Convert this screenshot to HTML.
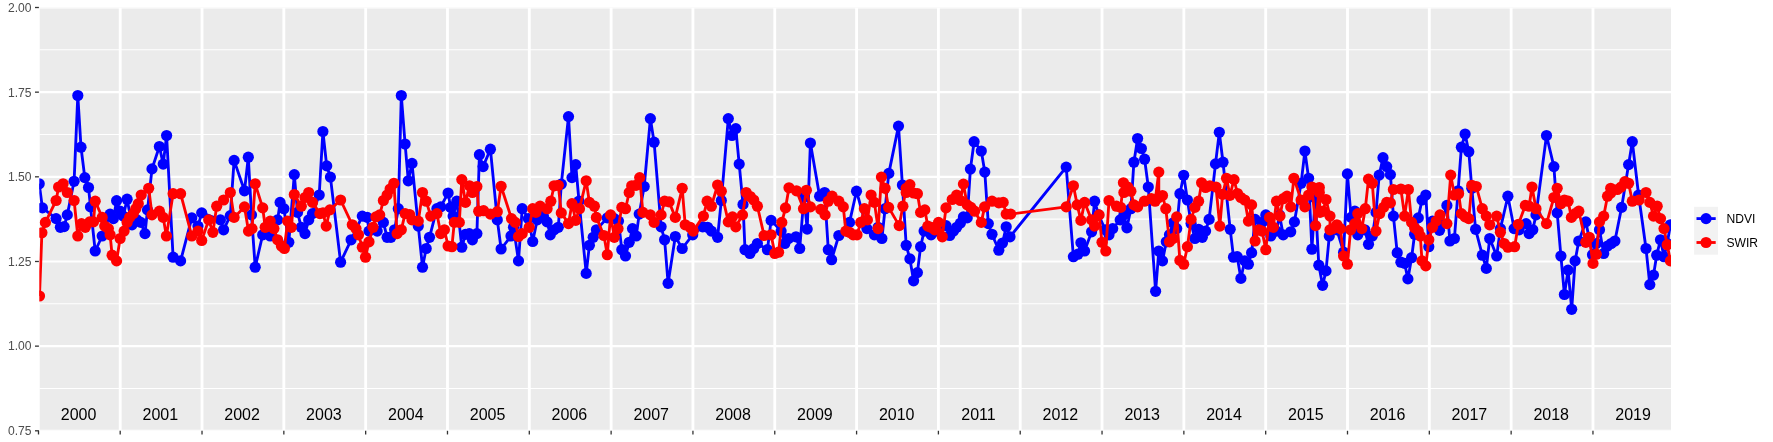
<!DOCTYPE html>
<html><head><meta charset="utf-8"><title>NDVI / SWIR time series</title>
<style>html,body{margin:0;padding:0;background:#fff}svg{display:block}text{font-family:"Liberation Sans",Arial,Helvetica,sans-serif}svg{will-change:transform}</style></head><body>
<svg width="1773" height="442" viewBox="0 0 1773 442">
<rect width="1773" height="442" fill="#fff"/>
<rect x="39.3" y="7.5" width="1631.7" height="423.3" fill="#EBEBEB"/>
<defs><clipPath id="c"><rect x="39.3" y="7.5" width="1631.7" height="423.3"/></clipPath></defs>
<g clip-path="url(#c)">
<line x1="39.3" x2="1671.0" y1="388.47" y2="388.47" stroke="#fff" stroke-width="1.07"/>
<line x1="39.3" x2="1671.0" y1="303.81" y2="303.81" stroke="#fff" stroke-width="1.07"/>
<line x1="39.3" x2="1671.0" y1="219.15" y2="219.15" stroke="#fff" stroke-width="1.07"/>
<line x1="39.3" x2="1671.0" y1="134.49" y2="134.49" stroke="#fff" stroke-width="1.07"/>
<line x1="39.3" x2="1671.0" y1="49.83" y2="49.83" stroke="#fff" stroke-width="1.07"/>
<line x1="39.3" x2="1671.0" y1="430.80" y2="430.80" stroke="#fff" stroke-width="2.13"/>
<line x1="39.3" x2="1671.0" y1="346.14" y2="346.14" stroke="#fff" stroke-width="2.13"/>
<line x1="39.3" x2="1671.0" y1="261.48" y2="261.48" stroke="#fff" stroke-width="2.13"/>
<line x1="39.3" x2="1671.0" y1="176.82" y2="176.82" stroke="#fff" stroke-width="2.13"/>
<line x1="39.3" x2="1671.0" y1="92.16" y2="92.16" stroke="#fff" stroke-width="2.13"/>
<line x1="39.3" x2="1671.0" y1="7.50" y2="7.50" stroke="#fff" stroke-width="2.13"/>
<line y1="7.5" y2="430.8" x1="38.50" x2="38.50" stroke="#fff" stroke-width="2.85"/>
<line y1="7.5" y2="430.8" x1="120.20" x2="120.20" stroke="#fff" stroke-width="2.85"/>
<line y1="7.5" y2="430.8" x1="202.02" x2="202.02" stroke="#fff" stroke-width="2.85"/>
<line y1="7.5" y2="430.8" x1="283.84" x2="283.84" stroke="#fff" stroke-width="2.85"/>
<line y1="7.5" y2="430.8" x1="365.66" x2="365.66" stroke="#fff" stroke-width="2.85"/>
<line y1="7.5" y2="430.8" x1="447.48" x2="447.48" stroke="#fff" stroke-width="2.85"/>
<line y1="7.5" y2="430.8" x1="529.30" x2="529.30" stroke="#fff" stroke-width="2.85"/>
<line y1="7.5" y2="430.8" x1="611.12" x2="611.12" stroke="#fff" stroke-width="2.85"/>
<line y1="7.5" y2="430.8" x1="692.94" x2="692.94" stroke="#fff" stroke-width="2.85"/>
<line y1="7.5" y2="430.8" x1="774.76" x2="774.76" stroke="#fff" stroke-width="2.85"/>
<line y1="7.5" y2="430.8" x1="856.58" x2="856.58" stroke="#fff" stroke-width="2.85"/>
<line y1="7.5" y2="430.8" x1="938.40" x2="938.40" stroke="#fff" stroke-width="2.85"/>
<line y1="7.5" y2="430.8" x1="1020.22" x2="1020.22" stroke="#fff" stroke-width="2.85"/>
<line y1="7.5" y2="430.8" x1="1102.04" x2="1102.04" stroke="#fff" stroke-width="2.85"/>
<line y1="7.5" y2="430.8" x1="1183.86" x2="1183.86" stroke="#fff" stroke-width="2.85"/>
<line y1="7.5" y2="430.8" x1="1265.68" x2="1265.68" stroke="#fff" stroke-width="2.85"/>
<line y1="7.5" y2="430.8" x1="1347.50" x2="1347.50" stroke="#fff" stroke-width="2.85"/>
<line y1="7.5" y2="430.8" x1="1429.32" x2="1429.32" stroke="#fff" stroke-width="2.85"/>
<line y1="7.5" y2="430.8" x1="1511.14" x2="1511.14" stroke="#fff" stroke-width="2.85"/>
<line y1="7.5" y2="430.8" x1="1592.96" x2="1592.96" stroke="#fff" stroke-width="2.85"/>
<path d="M39.2,183.8 L42.4,207.9 L56.1,218.6 L60.4,227.3 L64.1,226.6 L67.3,214.9 L74.1,181.3 L77.8,95.5 L81.0,147.2 L84.8,177.6 L88.5,187.5 L90.5,206.9 L95.2,251.0 L102.2,236.0 L110.1,214.1 L113.4,218.6 L116.6,200.7 L120.1,211.2 L123.3,216.1 L127.1,199.2 L132.0,224.8 L137.0,219.9 L140.8,222.4 L145.0,233.6 L147.5,209.9 L152.0,168.9 L159.4,146.5 L163.2,164.1 L166.6,135.5 L173.1,257.2 L180.6,260.9 L191.8,217.9 L198.0,226.1 L201.7,212.9 L220.4,219.9 L223.6,229.8 L230.3,215.6 L234.1,160.4 L244.5,190.8 L248.3,157.2 L251.5,214.9 L255.2,267.2 L262.7,234.8 L270.2,236.0 L277.6,219.9 L280.1,202.4 L283.9,208.7 L288.8,242.3 L294.3,174.6 L297.5,212.4 L301.3,227.3 L305.0,233.6 L308.7,219.9 L312.5,213.6 L319.2,195.0 L322.9,131.5 L326.7,165.9 L330.4,177.1 L340.6,262.2 L351.1,239.8 L362.3,216.1 L367.2,217.4 L369.0,231.1 L377.2,231.1 L383.4,222.4 L387.1,237.3 L390.9,237.3 L394.6,229.8 L398.3,208.7 L401.3,95.5 L405.1,144.0 L408.3,180.8 L412.0,163.4 L418.3,226.1 L422.5,267.2 L426.2,248.5 L429.5,237.3 L436.9,208.7 L440.7,206.9 L448.1,193.0 L450.6,207.4 L453.1,216.1 L456.8,201.2 L461.8,247.2 L465.5,234.3 L469.3,233.6 L472.4,239.8 L476.9,233.6 L479.4,154.7 L483.1,166.6 L490.4,149.2 L497.3,219.9 L501.1,249.0 L511.0,236.0 L513.5,227.3 L518.5,260.9 L522.2,208.7 L528.4,218.6 L532.7,241.5 L537.2,219.9 L543.4,216.1 L547.1,221.9 L550.3,234.8 L554.1,229.8 L558.3,227.3 L561.3,184.1 L568.5,116.6 L572.0,177.6 L575.7,164.6 L579.0,201.2 L586.2,273.4 L589.4,245.3 L593.2,237.3 L596.4,229.8 L607.3,217.9 L614.3,218.6 L618.5,221.1 L621.8,249.7 L625.5,256.0 L629.2,242.3 L632.5,228.6 L636.2,236.0 L639.2,214.1 L644.2,186.5 L650.4,118.6 L654.1,142.2 L661.1,226.8 L664.6,239.8 L668.1,283.3 L675.3,236.5 L682.2,248.5 L692.7,234.8 L702.7,226.8 L707.6,227.3 L711.4,231.1 L717.6,237.3 L721.3,200.5 L728.3,118.6 L732.0,135.5 L735.8,128.6 L739.2,164.1 L743.0,204.4 L745.0,249.7 L749.9,253.5 L753.7,248.5 L757.4,243.5 L767.4,249.7 L771.1,220.4 L781.1,231.1 L784.8,243.5 L788.5,238.5 L796.0,236.8 L799.7,248.5 L804.0,197.0 L807.2,229.1 L810.4,143.0 L819.6,196.2 L824.6,192.5 L828.3,249.7 L831.6,259.7 L838.8,235.5 L849.5,222.4 L856.5,191.2 L866.9,228.6 L874.4,234.8 L878.1,227.3 L881.9,238.5 L885.1,208.7 L888.8,173.4 L898.5,126.1 L902.4,185.0 L906.2,245.3 L909.9,258.9 L913.6,280.8 L917.4,272.6 L920.6,246.7 L924.1,231.1 L931.1,234.8 L937.3,231.1 L946.0,225.6 L949.7,235.5 L953.5,231.1 L956.7,227.3 L960.4,223.1 L963.4,216.9 L967.2,217.9 L970.4,169.1 L974.1,141.7 L981.3,151.0 L984.8,172.1 L988.3,223.6 L992.0,234.3 L998.8,250.2 L1002.5,243.0 L1006.2,226.8 L1010.0,236.8 L1066.2,167.1 L1073.4,256.7 L1077.9,254.2 L1080.9,242.8 L1084.6,251.0 L1091.6,231.8 L1094.6,201.2 L1098.6,214.9 L1105.3,229.8 L1109.0,234.8 L1112.7,228.6 L1120.2,219.9 L1123.9,214.9 L1126.9,227.8 L1130.9,208.7 L1133.9,162.2 L1137.6,138.5 L1141.4,148.5 L1144.6,159.2 L1148.3,187.0 L1155.6,291.3 L1158.8,251.0 L1162.5,260.9 L1166.3,241.8 L1169.5,234.8 L1173.0,222.9 L1176.7,228.6 L1179.9,193.7 L1183.7,175.3 L1187.4,200.0 L1191.1,223.6 L1194.9,238.5 L1198.6,229.3 L1202.3,237.3 L1205.6,231.1 L1209.1,219.4 L1215.5,163.9 L1219.3,132.3 L1223.0,162.2 L1230.2,229.3 L1233.5,257.2 L1237.2,256.7 L1240.9,278.4 L1244.7,260.9 L1248.4,264.2 L1251.6,252.7 L1255.1,219.4 L1262.1,222.4 L1265.8,214.9 L1270.8,236.0 L1276.5,231.1 L1279.5,214.9 L1283.2,234.8 L1290.7,231.8 L1294.4,221.9 L1301.1,183.3 L1304.9,151.0 L1308.6,178.3 L1311.9,249.2 L1315.2,198.0 L1318.8,265.2 L1322.6,285.3 L1326.0,270.9 L1329.3,236.0 L1336.9,229.8 L1343.6,252.2 L1347.4,173.9 L1351.1,217.4 L1354.8,211.2 L1357.8,234.8 L1364.8,229.8 L1368.5,244.3 L1372.3,236.0 L1376.0,212.4 L1379.2,175.1 L1383.0,157.7 L1386.7,166.6 L1390.4,174.6 L1393.4,216.1 L1397.2,252.7 L1400.9,262.2 L1404.6,263.4 L1407.9,278.9 L1411.6,257.7 L1414.6,234.3 L1418.3,217.9 L1422.0,200.0 L1425.8,195.0 L1428.8,246.7 L1432.5,221.1 L1439.5,230.3 L1446.9,205.4 L1449.9,241.0 L1454.4,238.5 L1458.1,190.8 L1461.4,147.2 L1465.1,134.0 L1468.8,151.7 L1471.8,188.3 L1475.6,229.3 L1482.3,255.2 L1486.3,268.4 L1489.7,238.5 L1496.7,256.0 L1500.4,228.6 L1507.9,196.2 L1514.1,228.6 L1519.1,229.8 L1526.1,223.6 L1529.1,233.6 L1532.8,229.8 L1536.0,214.9 L1546.5,135.5 L1553.9,166.6 L1557.2,212.9 L1560.9,256.0 L1564.4,294.5 L1568.1,270.1 L1571.7,309.3 L1575.1,260.9 L1578.8,241.0 L1585.8,221.9 L1592.5,254.7 L1596.3,243.5 L1599.5,229.8 L1603.7,253.5 L1607.5,246.0 L1611.2,243.5 L1614.9,241.0 L1621.6,207.4 L1628.6,164.6 L1632.3,141.7 L1638.6,195.0 L1646.0,248.5 L1649.8,284.6 L1653.5,275.1 L1656.7,255.2 L1660.5,239.8 L1664.0,256.7 L1667.2,243.5 L1670.4,224.8" fill="none" stroke="#0000FF" stroke-width="2.85" stroke-linejoin="round" stroke-linecap="butt"/>
<g fill="#0000FF"><circle cx="39.2" cy="183.8" r="5.6"/><circle cx="42.4" cy="207.9" r="5.6"/><circle cx="56.1" cy="218.6" r="5.6"/><circle cx="60.4" cy="227.3" r="5.6"/><circle cx="64.1" cy="226.6" r="5.6"/><circle cx="67.3" cy="214.9" r="5.6"/><circle cx="74.1" cy="181.3" r="5.6"/><circle cx="77.8" cy="95.5" r="5.6"/><circle cx="81.0" cy="147.2" r="5.6"/><circle cx="84.8" cy="177.6" r="5.6"/><circle cx="88.5" cy="187.5" r="5.6"/><circle cx="90.5" cy="206.9" r="5.6"/><circle cx="95.2" cy="251.0" r="5.6"/><circle cx="102.2" cy="236.0" r="5.6"/><circle cx="110.1" cy="214.1" r="5.6"/><circle cx="113.4" cy="218.6" r="5.6"/><circle cx="116.6" cy="200.7" r="5.6"/><circle cx="120.1" cy="211.2" r="5.6"/><circle cx="123.3" cy="216.1" r="5.6"/><circle cx="127.1" cy="199.2" r="5.6"/><circle cx="132.0" cy="224.8" r="5.6"/><circle cx="137.0" cy="219.9" r="5.6"/><circle cx="140.8" cy="222.4" r="5.6"/><circle cx="145.0" cy="233.6" r="5.6"/><circle cx="147.5" cy="209.9" r="5.6"/><circle cx="152.0" cy="168.9" r="5.6"/><circle cx="159.4" cy="146.5" r="5.6"/><circle cx="163.2" cy="164.1" r="5.6"/><circle cx="166.6" cy="135.5" r="5.6"/><circle cx="173.1" cy="257.2" r="5.6"/><circle cx="180.6" cy="260.9" r="5.6"/><circle cx="191.8" cy="217.9" r="5.6"/><circle cx="198.0" cy="226.1" r="5.6"/><circle cx="201.7" cy="212.9" r="5.6"/><circle cx="220.4" cy="219.9" r="5.6"/><circle cx="223.6" cy="229.8" r="5.6"/><circle cx="230.3" cy="215.6" r="5.6"/><circle cx="234.1" cy="160.4" r="5.6"/><circle cx="244.5" cy="190.8" r="5.6"/><circle cx="248.3" cy="157.2" r="5.6"/><circle cx="251.5" cy="214.9" r="5.6"/><circle cx="255.2" cy="267.2" r="5.6"/><circle cx="262.7" cy="234.8" r="5.6"/><circle cx="270.2" cy="236.0" r="5.6"/><circle cx="277.6" cy="219.9" r="5.6"/><circle cx="280.1" cy="202.4" r="5.6"/><circle cx="283.9" cy="208.7" r="5.6"/><circle cx="288.8" cy="242.3" r="5.6"/><circle cx="294.3" cy="174.6" r="5.6"/><circle cx="297.5" cy="212.4" r="5.6"/><circle cx="301.3" cy="227.3" r="5.6"/><circle cx="305.0" cy="233.6" r="5.6"/><circle cx="308.7" cy="219.9" r="5.6"/><circle cx="312.5" cy="213.6" r="5.6"/><circle cx="319.2" cy="195.0" r="5.6"/><circle cx="322.9" cy="131.5" r="5.6"/><circle cx="326.7" cy="165.9" r="5.6"/><circle cx="330.4" cy="177.1" r="5.6"/><circle cx="340.6" cy="262.2" r="5.6"/><circle cx="351.1" cy="239.8" r="5.6"/><circle cx="362.3" cy="216.1" r="5.6"/><circle cx="367.2" cy="217.4" r="5.6"/><circle cx="369.0" cy="231.1" r="5.6"/><circle cx="377.2" cy="231.1" r="5.6"/><circle cx="383.4" cy="222.4" r="5.6"/><circle cx="387.1" cy="237.3" r="5.6"/><circle cx="390.9" cy="237.3" r="5.6"/><circle cx="394.6" cy="229.8" r="5.6"/><circle cx="398.3" cy="208.7" r="5.6"/><circle cx="401.3" cy="95.5" r="5.6"/><circle cx="405.1" cy="144.0" r="5.6"/><circle cx="408.3" cy="180.8" r="5.6"/><circle cx="412.0" cy="163.4" r="5.6"/><circle cx="418.3" cy="226.1" r="5.6"/><circle cx="422.5" cy="267.2" r="5.6"/><circle cx="426.2" cy="248.5" r="5.6"/><circle cx="429.5" cy="237.3" r="5.6"/><circle cx="436.9" cy="208.7" r="5.6"/><circle cx="440.7" cy="206.9" r="5.6"/><circle cx="448.1" cy="193.0" r="5.6"/><circle cx="450.6" cy="207.4" r="5.6"/><circle cx="453.1" cy="216.1" r="5.6"/><circle cx="456.8" cy="201.2" r="5.6"/><circle cx="461.8" cy="247.2" r="5.6"/><circle cx="465.5" cy="234.3" r="5.6"/><circle cx="469.3" cy="233.6" r="5.6"/><circle cx="472.4" cy="239.8" r="5.6"/><circle cx="476.9" cy="233.6" r="5.6"/><circle cx="479.4" cy="154.7" r="5.6"/><circle cx="483.1" cy="166.6" r="5.6"/><circle cx="490.4" cy="149.2" r="5.6"/><circle cx="497.3" cy="219.9" r="5.6"/><circle cx="501.1" cy="249.0" r="5.6"/><circle cx="511.0" cy="236.0" r="5.6"/><circle cx="513.5" cy="227.3" r="5.6"/><circle cx="518.5" cy="260.9" r="5.6"/><circle cx="522.2" cy="208.7" r="5.6"/><circle cx="528.4" cy="218.6" r="5.6"/><circle cx="532.7" cy="241.5" r="5.6"/><circle cx="537.2" cy="219.9" r="5.6"/><circle cx="543.4" cy="216.1" r="5.6"/><circle cx="547.1" cy="221.9" r="5.6"/><circle cx="550.3" cy="234.8" r="5.6"/><circle cx="554.1" cy="229.8" r="5.6"/><circle cx="558.3" cy="227.3" r="5.6"/><circle cx="561.3" cy="184.1" r="5.6"/><circle cx="568.5" cy="116.6" r="5.6"/><circle cx="572.0" cy="177.6" r="5.6"/><circle cx="575.7" cy="164.6" r="5.6"/><circle cx="579.0" cy="201.2" r="5.6"/><circle cx="586.2" cy="273.4" r="5.6"/><circle cx="589.4" cy="245.3" r="5.6"/><circle cx="593.2" cy="237.3" r="5.6"/><circle cx="596.4" cy="229.8" r="5.6"/><circle cx="607.3" cy="217.9" r="5.6"/><circle cx="614.3" cy="218.6" r="5.6"/><circle cx="618.5" cy="221.1" r="5.6"/><circle cx="621.8" cy="249.7" r="5.6"/><circle cx="625.5" cy="256.0" r="5.6"/><circle cx="629.2" cy="242.3" r="5.6"/><circle cx="632.5" cy="228.6" r="5.6"/><circle cx="636.2" cy="236.0" r="5.6"/><circle cx="639.2" cy="214.1" r="5.6"/><circle cx="644.2" cy="186.5" r="5.6"/><circle cx="650.4" cy="118.6" r="5.6"/><circle cx="654.1" cy="142.2" r="5.6"/><circle cx="661.1" cy="226.8" r="5.6"/><circle cx="664.6" cy="239.8" r="5.6"/><circle cx="668.1" cy="283.3" r="5.6"/><circle cx="675.3" cy="236.5" r="5.6"/><circle cx="682.2" cy="248.5" r="5.6"/><circle cx="692.7" cy="234.8" r="5.6"/><circle cx="702.7" cy="226.8" r="5.6"/><circle cx="707.6" cy="227.3" r="5.6"/><circle cx="711.4" cy="231.1" r="5.6"/><circle cx="717.6" cy="237.3" r="5.6"/><circle cx="721.3" cy="200.5" r="5.6"/><circle cx="728.3" cy="118.6" r="5.6"/><circle cx="732.0" cy="135.5" r="5.6"/><circle cx="735.8" cy="128.6" r="5.6"/><circle cx="739.2" cy="164.1" r="5.6"/><circle cx="743.0" cy="204.4" r="5.6"/><circle cx="745.0" cy="249.7" r="5.6"/><circle cx="749.9" cy="253.5" r="5.6"/><circle cx="753.7" cy="248.5" r="5.6"/><circle cx="757.4" cy="243.5" r="5.6"/><circle cx="767.4" cy="249.7" r="5.6"/><circle cx="771.1" cy="220.4" r="5.6"/><circle cx="781.1" cy="231.1" r="5.6"/><circle cx="784.8" cy="243.5" r="5.6"/><circle cx="788.5" cy="238.5" r="5.6"/><circle cx="796.0" cy="236.8" r="5.6"/><circle cx="799.7" cy="248.5" r="5.6"/><circle cx="804.0" cy="197.0" r="5.6"/><circle cx="807.2" cy="229.1" r="5.6"/><circle cx="810.4" cy="143.0" r="5.6"/><circle cx="819.6" cy="196.2" r="5.6"/><circle cx="824.6" cy="192.5" r="5.6"/><circle cx="828.3" cy="249.7" r="5.6"/><circle cx="831.6" cy="259.7" r="5.6"/><circle cx="838.8" cy="235.5" r="5.6"/><circle cx="849.5" cy="222.4" r="5.6"/><circle cx="856.5" cy="191.2" r="5.6"/><circle cx="866.9" cy="228.6" r="5.6"/><circle cx="874.4" cy="234.8" r="5.6"/><circle cx="878.1" cy="227.3" r="5.6"/><circle cx="881.9" cy="238.5" r="5.6"/><circle cx="885.1" cy="208.7" r="5.6"/><circle cx="888.8" cy="173.4" r="5.6"/><circle cx="898.5" cy="126.1" r="5.6"/><circle cx="902.4" cy="185.0" r="5.6"/><circle cx="906.2" cy="245.3" r="5.6"/><circle cx="909.9" cy="258.9" r="5.6"/><circle cx="913.6" cy="280.8" r="5.6"/><circle cx="917.4" cy="272.6" r="5.6"/><circle cx="920.6" cy="246.7" r="5.6"/><circle cx="924.1" cy="231.1" r="5.6"/><circle cx="931.1" cy="234.8" r="5.6"/><circle cx="937.3" cy="231.1" r="5.6"/><circle cx="946.0" cy="225.6" r="5.6"/><circle cx="949.7" cy="235.5" r="5.6"/><circle cx="953.5" cy="231.1" r="5.6"/><circle cx="956.7" cy="227.3" r="5.6"/><circle cx="960.4" cy="223.1" r="5.6"/><circle cx="963.4" cy="216.9" r="5.6"/><circle cx="967.2" cy="217.9" r="5.6"/><circle cx="970.4" cy="169.1" r="5.6"/><circle cx="974.1" cy="141.7" r="5.6"/><circle cx="981.3" cy="151.0" r="5.6"/><circle cx="984.8" cy="172.1" r="5.6"/><circle cx="988.3" cy="223.6" r="5.6"/><circle cx="992.0" cy="234.3" r="5.6"/><circle cx="998.8" cy="250.2" r="5.6"/><circle cx="1002.5" cy="243.0" r="5.6"/><circle cx="1006.2" cy="226.8" r="5.6"/><circle cx="1010.0" cy="236.8" r="5.6"/><circle cx="1066.2" cy="167.1" r="5.6"/><circle cx="1073.4" cy="256.7" r="5.6"/><circle cx="1077.9" cy="254.2" r="5.6"/><circle cx="1080.9" cy="242.8" r="5.6"/><circle cx="1084.6" cy="251.0" r="5.6"/><circle cx="1091.6" cy="231.8" r="5.6"/><circle cx="1094.6" cy="201.2" r="5.6"/><circle cx="1098.6" cy="214.9" r="5.6"/><circle cx="1105.3" cy="229.8" r="5.6"/><circle cx="1109.0" cy="234.8" r="5.6"/><circle cx="1112.7" cy="228.6" r="5.6"/><circle cx="1120.2" cy="219.9" r="5.6"/><circle cx="1123.9" cy="214.9" r="5.6"/><circle cx="1126.9" cy="227.8" r="5.6"/><circle cx="1130.9" cy="208.7" r="5.6"/><circle cx="1133.9" cy="162.2" r="5.6"/><circle cx="1137.6" cy="138.5" r="5.6"/><circle cx="1141.4" cy="148.5" r="5.6"/><circle cx="1144.6" cy="159.2" r="5.6"/><circle cx="1148.3" cy="187.0" r="5.6"/><circle cx="1155.6" cy="291.3" r="5.6"/><circle cx="1158.8" cy="251.0" r="5.6"/><circle cx="1162.5" cy="260.9" r="5.6"/><circle cx="1166.3" cy="241.8" r="5.6"/><circle cx="1169.5" cy="234.8" r="5.6"/><circle cx="1173.0" cy="222.9" r="5.6"/><circle cx="1176.7" cy="228.6" r="5.6"/><circle cx="1179.9" cy="193.7" r="5.6"/><circle cx="1183.7" cy="175.3" r="5.6"/><circle cx="1187.4" cy="200.0" r="5.6"/><circle cx="1191.1" cy="223.6" r="5.6"/><circle cx="1194.9" cy="238.5" r="5.6"/><circle cx="1198.6" cy="229.3" r="5.6"/><circle cx="1202.3" cy="237.3" r="5.6"/><circle cx="1205.6" cy="231.1" r="5.6"/><circle cx="1209.1" cy="219.4" r="5.6"/><circle cx="1215.5" cy="163.9" r="5.6"/><circle cx="1219.3" cy="132.3" r="5.6"/><circle cx="1223.0" cy="162.2" r="5.6"/><circle cx="1230.2" cy="229.3" r="5.6"/><circle cx="1233.5" cy="257.2" r="5.6"/><circle cx="1237.2" cy="256.7" r="5.6"/><circle cx="1240.9" cy="278.4" r="5.6"/><circle cx="1244.7" cy="260.9" r="5.6"/><circle cx="1248.4" cy="264.2" r="5.6"/><circle cx="1251.6" cy="252.7" r="5.6"/><circle cx="1255.1" cy="219.4" r="5.6"/><circle cx="1262.1" cy="222.4" r="5.6"/><circle cx="1265.8" cy="214.9" r="5.6"/><circle cx="1270.8" cy="236.0" r="5.6"/><circle cx="1276.5" cy="231.1" r="5.6"/><circle cx="1279.5" cy="214.9" r="5.6"/><circle cx="1283.2" cy="234.8" r="5.6"/><circle cx="1290.7" cy="231.8" r="5.6"/><circle cx="1294.4" cy="221.9" r="5.6"/><circle cx="1301.1" cy="183.3" r="5.6"/><circle cx="1304.9" cy="151.0" r="5.6"/><circle cx="1308.6" cy="178.3" r="5.6"/><circle cx="1311.9" cy="249.2" r="5.6"/><circle cx="1315.2" cy="198.0" r="5.6"/><circle cx="1318.8" cy="265.2" r="5.6"/><circle cx="1322.6" cy="285.3" r="5.6"/><circle cx="1326.0" cy="270.9" r="5.6"/><circle cx="1329.3" cy="236.0" r="5.6"/><circle cx="1336.9" cy="229.8" r="5.6"/><circle cx="1343.6" cy="252.2" r="5.6"/><circle cx="1347.4" cy="173.9" r="5.6"/><circle cx="1351.1" cy="217.4" r="5.6"/><circle cx="1354.8" cy="211.2" r="5.6"/><circle cx="1357.8" cy="234.8" r="5.6"/><circle cx="1364.8" cy="229.8" r="5.6"/><circle cx="1368.5" cy="244.3" r="5.6"/><circle cx="1372.3" cy="236.0" r="5.6"/><circle cx="1376.0" cy="212.4" r="5.6"/><circle cx="1379.2" cy="175.1" r="5.6"/><circle cx="1383.0" cy="157.7" r="5.6"/><circle cx="1386.7" cy="166.6" r="5.6"/><circle cx="1390.4" cy="174.6" r="5.6"/><circle cx="1393.4" cy="216.1" r="5.6"/><circle cx="1397.2" cy="252.7" r="5.6"/><circle cx="1400.9" cy="262.2" r="5.6"/><circle cx="1404.6" cy="263.4" r="5.6"/><circle cx="1407.9" cy="278.9" r="5.6"/><circle cx="1411.6" cy="257.7" r="5.6"/><circle cx="1414.6" cy="234.3" r="5.6"/><circle cx="1418.3" cy="217.9" r="5.6"/><circle cx="1422.0" cy="200.0" r="5.6"/><circle cx="1425.8" cy="195.0" r="5.6"/><circle cx="1428.8" cy="246.7" r="5.6"/><circle cx="1432.5" cy="221.1" r="5.6"/><circle cx="1439.5" cy="230.3" r="5.6"/><circle cx="1446.9" cy="205.4" r="5.6"/><circle cx="1449.9" cy="241.0" r="5.6"/><circle cx="1454.4" cy="238.5" r="5.6"/><circle cx="1458.1" cy="190.8" r="5.6"/><circle cx="1461.4" cy="147.2" r="5.6"/><circle cx="1465.1" cy="134.0" r="5.6"/><circle cx="1468.8" cy="151.7" r="5.6"/><circle cx="1471.8" cy="188.3" r="5.6"/><circle cx="1475.6" cy="229.3" r="5.6"/><circle cx="1482.3" cy="255.2" r="5.6"/><circle cx="1486.3" cy="268.4" r="5.6"/><circle cx="1489.7" cy="238.5" r="5.6"/><circle cx="1496.7" cy="256.0" r="5.6"/><circle cx="1500.4" cy="228.6" r="5.6"/><circle cx="1507.9" cy="196.2" r="5.6"/><circle cx="1514.1" cy="228.6" r="5.6"/><circle cx="1519.1" cy="229.8" r="5.6"/><circle cx="1526.1" cy="223.6" r="5.6"/><circle cx="1529.1" cy="233.6" r="5.6"/><circle cx="1532.8" cy="229.8" r="5.6"/><circle cx="1536.0" cy="214.9" r="5.6"/><circle cx="1546.5" cy="135.5" r="5.6"/><circle cx="1553.9" cy="166.6" r="5.6"/><circle cx="1557.2" cy="212.9" r="5.6"/><circle cx="1560.9" cy="256.0" r="5.6"/><circle cx="1564.4" cy="294.5" r="5.6"/><circle cx="1568.1" cy="270.1" r="5.6"/><circle cx="1571.7" cy="309.3" r="5.6"/><circle cx="1575.1" cy="260.9" r="5.6"/><circle cx="1578.8" cy="241.0" r="5.6"/><circle cx="1585.8" cy="221.9" r="5.6"/><circle cx="1592.5" cy="254.7" r="5.6"/><circle cx="1596.3" cy="243.5" r="5.6"/><circle cx="1599.5" cy="229.8" r="5.6"/><circle cx="1603.7" cy="253.5" r="5.6"/><circle cx="1607.5" cy="246.0" r="5.6"/><circle cx="1611.2" cy="243.5" r="5.6"/><circle cx="1614.9" cy="241.0" r="5.6"/><circle cx="1621.6" cy="207.4" r="5.6"/><circle cx="1628.6" cy="164.6" r="5.6"/><circle cx="1632.3" cy="141.7" r="5.6"/><circle cx="1638.6" cy="195.0" r="5.6"/><circle cx="1646.0" cy="248.5" r="5.6"/><circle cx="1649.8" cy="284.6" r="5.6"/><circle cx="1653.5" cy="275.1" r="5.6"/><circle cx="1656.7" cy="255.2" r="5.6"/><circle cx="1660.5" cy="239.8" r="5.6"/><circle cx="1664.0" cy="256.7" r="5.6"/><circle cx="1667.2" cy="243.5" r="5.6"/><circle cx="1670.4" cy="224.8" r="5.6"/></g>
<path d="M39.5,296.0 L41.9,232.8 L45.4,222.4 L56.1,200.5 L58.6,187.0 L63.1,183.8 L67.3,192.5 L74.1,200.5 L77.8,236.0 L81.5,223.6 L85.3,227.3 L89.7,221.9 L93.5,221.9 L95.2,201.2 L102.2,217.4 L104.7,226.1 L108.4,228.6 L110.1,234.8 L112.1,255.2 L116.6,260.9 L120.1,238.5 L124.1,231.1 L127.1,222.4 L129.6,217.4 L133.3,213.6 L135.8,208.7 L138.3,203.7 L141.2,195.0 L148.7,188.3 L152.0,214.9 L159.4,211.2 L163.2,217.4 L166.4,236.0 L173.1,193.7 L180.6,193.7 L191.8,236.0 L198.0,231.1 L201.7,240.5 L208.7,219.9 L212.9,232.3 L216.7,206.2 L223.6,200.0 L230.3,192.5 L234.1,217.4 L244.5,206.9 L248.5,231.1 L252.0,228.6 L255.2,183.8 L262.7,207.9 L265.2,227.3 L270.2,221.1 L273.9,228.6 L277.6,239.8 L281.4,246.0 L284.4,248.5 L287.6,221.1 L291.3,227.3 L294.3,194.5 L301.3,206.2 L305.0,197.5 L308.7,192.5 L312.5,202.4 L319.9,213.6 L323.0,212.8 L326.2,226.1 L329.9,209.9 L340.6,200.0 L352.3,224.8 L356.0,228.6 L358.5,234.8 L362.3,247.2 L365.5,257.2 L369.0,241.8 L373.0,227.3 L375.9,216.9 L379.7,214.9 L383.4,200.5 L387.1,195.0 L390.1,189.0 L393.9,183.3 L397.1,233.6 L401.3,229.8 L405.1,213.6 L409.6,214.5 L412.0,219.9 L418.3,221.1 L422.5,192.5 L426.2,201.2 L430.7,216.1 L436.9,213.6 L440.7,233.6 L444.4,229.8 L448.1,246.0 L451.9,246.7 L454.3,222.4 L459.3,222.4 L461.8,179.6 L465.5,202.4 L469.5,185.8 L472.4,192.5 L476.9,186.5 L478.7,211.2 L483.6,210.7 L490.4,214.1 L497.3,211.7 L501.1,186.3 L511.5,218.6 L515.3,222.4 L518.5,236.5 L522.2,233.6 L529.2,227.3 L532.7,208.7 L535.9,212.4 L540.1,206.2 L547.1,208.7 L550.8,201.2 L554.1,185.8 L558.3,185.3 L561.3,212.9 L568.5,223.6 L572.0,203.7 L575.7,220.4 L579.5,208.7 L586.2,180.8 L589.4,202.4 L594.4,206.2 L596.4,217.4 L603.9,235.5 L607.3,254.7 L610.6,214.9 L614.3,237.3 L618.0,228.6 L621.8,207.4 L625.5,208.7 L629.2,192.5 L631.7,185.8 L636.0,185.3 L639.7,177.6 L642.9,212.4 L650.4,214.9 L654.1,222.4 L661.1,214.9 L664.6,201.2 L669.1,201.9 L675.3,217.4 L682.2,188.3 L685.2,224.8 L690.2,227.3 L693.2,231.1 L703.4,216.1 L707.1,201.2 L711.4,206.2 L717.6,185.0 L721.3,191.2 L728.3,221.9 L732.5,216.9 L735.8,226.8 L742.5,214.9 L746.2,192.5 L750.3,196.5 L753.7,200.0 L757.4,206.2 L764.1,235.5 L771.1,234.8 L774.8,253.5 L778.6,252.2 L781.8,222.4 L785.5,207.9 L789.0,187.8 L796.5,190.8 L803.5,208.7 L806.4,190.3 L810.4,206.9 L820.9,209.4 L825.1,214.9 L828.3,201.2 L832.1,196.2 L838.8,201.2 L843.3,206.9 L845.8,231.1 L849.5,232.3 L853.2,234.8 L857.0,234.8 L860.7,222.4 L864.4,208.7 L867.4,219.9 L871.1,195.0 L874.4,202.4 L878.1,228.6 L881.4,177.1 L885.1,188.3 L888.6,207.4 L899.2,225.6 L902.9,206.2 L906.2,188.3 L906.2,192.5 L909.9,184.6 L913.6,193.0 L917.4,193.7 L920.6,212.4 L924.8,209.9 L927.8,226.1 L931.1,227.3 L934.8,229.8 L938.5,222.4 L942.3,236.8 L946.0,207.9 L952.2,199.5 L956.7,195.0 L960.4,200.5 L963.4,184.1 L967.2,204.9 L970.9,207.4 L974.6,211.2 L981.3,222.4 L984.6,206.9 L992.0,201.2 L998.8,202.9 L1003.2,202.4 L1006.2,214.1 L1010.7,214.1 L1066.2,206.9 L1073.4,185.8 L1077.2,204.9 L1080.9,220.4 L1084.6,202.4 L1091.6,219.9 L1094.6,226.1 L1099.1,214.9 L1102.0,242.3 L1105.8,251.0 L1109.0,200.5 L1116.5,206.2 L1120.7,207.4 L1123.4,182.8 L1123.9,192.5 L1127.7,187.0 L1130.9,191.2 L1133.9,204.9 L1137.6,206.9 L1144.4,201.2 L1151.3,198.7 L1155.1,201.2 L1158.8,172.1 L1158.8,197.5 L1162.5,195.5 L1165.8,208.7 L1169.5,241.8 L1173.0,238.5 L1176.7,216.9 L1179.9,260.4 L1183.7,264.2 L1187.4,246.7 L1191.1,219.4 L1194.9,207.4 L1198.6,201.2 L1201.6,182.8 L1205.6,187.5 L1209.8,185.8 L1216.0,187.0 L1219.8,226.1 L1222.6,194.4 L1226.5,178.3 L1229.9,195.3 L1234.0,179.6 L1237.5,193.5 L1240.9,197.5 L1244.7,200.0 L1248.4,221.1 L1251.6,204.9 L1255.1,241.0 L1258.8,229.8 L1262.1,231.1 L1265.8,249.7 L1269.5,217.4 L1273.3,227.3 L1276.5,201.2 L1280.0,216.1 L1283.2,198.7 L1287.0,196.2 L1290.7,206.9 L1293.9,178.3 L1301.1,200.0 L1304.9,206.9 L1308.6,195.0 L1311.9,187.0 L1315.6,225.6 L1319.3,187.5 L1319.3,192.5 L1320.0,212.4 L1323.1,211.2 L1326.0,199.5 L1330.0,216.1 L1330.0,229.8 L1332.9,228.6 L1336.9,224.8 L1340.4,228.6 L1343.6,256.0 L1347.4,264.2 L1350.6,229.8 L1354.8,223.6 L1357.8,213.6 L1361.8,228.6 L1365.3,208.7 L1368.5,179.1 L1372.3,183.3 L1376.0,231.1 L1379.7,213.6 L1383.5,207.4 L1386.7,202.4 L1390.4,202.9 L1393.4,189.5 L1400.9,189.0 L1404.6,216.1 L1408.4,189.5 L1411.6,222.4 L1414.6,227.8 L1418.3,231.1 L1420.3,236.0 L1422.0,260.9 L1425.8,265.9 L1428.8,239.8 L1432.5,227.3 L1436.2,221.1 L1440.0,214.9 L1446.9,223.6 L1450.7,175.1 L1454.4,195.0 L1458.6,193.8 L1461.4,213.6 L1465.1,216.9 L1468.8,218.6 L1471.8,185.3 L1476.3,186.5 L1482.3,208.7 L1486.3,216.1 L1489.7,224.8 L1496.7,216.1 L1500.4,232.3 L1504.2,243.5 L1507.9,247.2 L1514.6,246.7 L1518.4,224.3 L1525.3,205.4 L1529.1,206.2 L1532.0,187.0 L1536.0,208.7 L1546.5,223.6 L1553.9,197.5 L1557.2,188.3 L1560.9,203.7 L1564.4,200.0 L1568.1,201.2 L1571.4,217.4 L1575.1,213.6 L1578.8,211.2 L1585.8,242.3 L1589.3,237.3 L1593.0,263.4 L1596.3,254.2 L1599.5,221.9 L1603.7,216.1 L1607.5,196.2 L1610.7,188.3 L1610.7,193.0 L1617.4,189.5 L1621.1,187.0 L1624.9,181.6 L1628.6,183.3 L1632.3,201.2 L1639.1,200.0 L1646.0,192.5 L1649.8,202.4 L1653.5,216.1 L1657.2,206.2 L1660.5,218.6 L1664.0,228.6 L1667.2,244.8 L1670.4,260.9" fill="none" stroke="#FF0000" stroke-width="2.85" stroke-linejoin="round" stroke-linecap="butt"/>
<g fill="#FF0000"><circle cx="39.5" cy="296.0" r="5.6"/><circle cx="41.9" cy="232.8" r="5.6"/><circle cx="45.4" cy="222.4" r="5.6"/><circle cx="56.1" cy="200.5" r="5.6"/><circle cx="58.6" cy="187.0" r="5.6"/><circle cx="63.1" cy="183.8" r="5.6"/><circle cx="67.3" cy="192.5" r="5.6"/><circle cx="74.1" cy="200.5" r="5.6"/><circle cx="77.8" cy="236.0" r="5.6"/><circle cx="81.5" cy="223.6" r="5.6"/><circle cx="85.3" cy="227.3" r="5.6"/><circle cx="89.7" cy="221.9" r="5.6"/><circle cx="93.5" cy="221.9" r="5.6"/><circle cx="95.2" cy="201.2" r="5.6"/><circle cx="102.2" cy="217.4" r="5.6"/><circle cx="104.7" cy="226.1" r="5.6"/><circle cx="108.4" cy="228.6" r="5.6"/><circle cx="110.1" cy="234.8" r="5.6"/><circle cx="112.1" cy="255.2" r="5.6"/><circle cx="116.6" cy="260.9" r="5.6"/><circle cx="120.1" cy="238.5" r="5.6"/><circle cx="124.1" cy="231.1" r="5.6"/><circle cx="127.1" cy="222.4" r="5.6"/><circle cx="129.6" cy="217.4" r="5.6"/><circle cx="133.3" cy="213.6" r="5.6"/><circle cx="135.8" cy="208.7" r="5.6"/><circle cx="138.3" cy="203.7" r="5.6"/><circle cx="141.2" cy="195.0" r="5.6"/><circle cx="148.7" cy="188.3" r="5.6"/><circle cx="152.0" cy="214.9" r="5.6"/><circle cx="159.4" cy="211.2" r="5.6"/><circle cx="163.2" cy="217.4" r="5.6"/><circle cx="166.4" cy="236.0" r="5.6"/><circle cx="173.1" cy="193.7" r="5.6"/><circle cx="180.6" cy="193.7" r="5.6"/><circle cx="191.8" cy="236.0" r="5.6"/><circle cx="198.0" cy="231.1" r="5.6"/><circle cx="201.7" cy="240.5" r="5.6"/><circle cx="208.7" cy="219.9" r="5.6"/><circle cx="212.9" cy="232.3" r="5.6"/><circle cx="216.7" cy="206.2" r="5.6"/><circle cx="223.6" cy="200.0" r="5.6"/><circle cx="230.3" cy="192.5" r="5.6"/><circle cx="234.1" cy="217.4" r="5.6"/><circle cx="244.5" cy="206.9" r="5.6"/><circle cx="248.5" cy="231.1" r="5.6"/><circle cx="252.0" cy="228.6" r="5.6"/><circle cx="255.2" cy="183.8" r="5.6"/><circle cx="262.7" cy="207.9" r="5.6"/><circle cx="265.2" cy="227.3" r="5.6"/><circle cx="270.2" cy="221.1" r="5.6"/><circle cx="273.9" cy="228.6" r="5.6"/><circle cx="277.6" cy="239.8" r="5.6"/><circle cx="281.4" cy="246.0" r="5.6"/><circle cx="284.4" cy="248.5" r="5.6"/><circle cx="287.6" cy="221.1" r="5.6"/><circle cx="291.3" cy="227.3" r="5.6"/><circle cx="294.3" cy="194.5" r="5.6"/><circle cx="301.3" cy="206.2" r="5.6"/><circle cx="305.0" cy="197.5" r="5.6"/><circle cx="308.7" cy="192.5" r="5.6"/><circle cx="312.5" cy="202.4" r="5.6"/><circle cx="319.9" cy="213.6" r="5.6"/><circle cx="323.0" cy="212.8" r="5.6"/><circle cx="326.2" cy="226.1" r="5.6"/><circle cx="329.9" cy="209.9" r="5.6"/><circle cx="340.6" cy="200.0" r="5.6"/><circle cx="352.3" cy="224.8" r="5.6"/><circle cx="356.0" cy="228.6" r="5.6"/><circle cx="358.5" cy="234.8" r="5.6"/><circle cx="362.3" cy="247.2" r="5.6"/><circle cx="365.5" cy="257.2" r="5.6"/><circle cx="369.0" cy="241.8" r="5.6"/><circle cx="373.0" cy="227.3" r="5.6"/><circle cx="375.9" cy="216.9" r="5.6"/><circle cx="379.7" cy="214.9" r="5.6"/><circle cx="383.4" cy="200.5" r="5.6"/><circle cx="387.1" cy="195.0" r="5.6"/><circle cx="390.1" cy="189.0" r="5.6"/><circle cx="393.9" cy="183.3" r="5.6"/><circle cx="397.1" cy="233.6" r="5.6"/><circle cx="401.3" cy="229.8" r="5.6"/><circle cx="405.1" cy="213.6" r="5.6"/><circle cx="409.6" cy="214.5" r="5.6"/><circle cx="412.0" cy="219.9" r="5.6"/><circle cx="418.3" cy="221.1" r="5.6"/><circle cx="422.5" cy="192.5" r="5.6"/><circle cx="426.2" cy="201.2" r="5.6"/><circle cx="430.7" cy="216.1" r="5.6"/><circle cx="436.9" cy="213.6" r="5.6"/><circle cx="440.7" cy="233.6" r="5.6"/><circle cx="444.4" cy="229.8" r="5.6"/><circle cx="448.1" cy="246.0" r="5.6"/><circle cx="451.9" cy="246.7" r="5.6"/><circle cx="454.3" cy="222.4" r="5.6"/><circle cx="459.3" cy="222.4" r="5.6"/><circle cx="461.8" cy="179.6" r="5.6"/><circle cx="465.5" cy="202.4" r="5.6"/><circle cx="469.5" cy="185.8" r="5.6"/><circle cx="472.4" cy="192.5" r="5.6"/><circle cx="476.9" cy="186.5" r="5.6"/><circle cx="478.7" cy="211.2" r="5.6"/><circle cx="483.6" cy="210.7" r="5.6"/><circle cx="490.4" cy="214.1" r="5.6"/><circle cx="497.3" cy="211.7" r="5.6"/><circle cx="501.1" cy="186.3" r="5.6"/><circle cx="511.5" cy="218.6" r="5.6"/><circle cx="515.3" cy="222.4" r="5.6"/><circle cx="518.5" cy="236.5" r="5.6"/><circle cx="522.2" cy="233.6" r="5.6"/><circle cx="529.2" cy="227.3" r="5.6"/><circle cx="532.7" cy="208.7" r="5.6"/><circle cx="535.9" cy="212.4" r="5.6"/><circle cx="540.1" cy="206.2" r="5.6"/><circle cx="547.1" cy="208.7" r="5.6"/><circle cx="550.8" cy="201.2" r="5.6"/><circle cx="554.1" cy="185.8" r="5.6"/><circle cx="558.3" cy="185.3" r="5.6"/><circle cx="561.3" cy="212.9" r="5.6"/><circle cx="568.5" cy="223.6" r="5.6"/><circle cx="572.0" cy="203.7" r="5.6"/><circle cx="575.7" cy="220.4" r="5.6"/><circle cx="579.5" cy="208.7" r="5.6"/><circle cx="586.2" cy="180.8" r="5.6"/><circle cx="589.4" cy="202.4" r="5.6"/><circle cx="594.4" cy="206.2" r="5.6"/><circle cx="596.4" cy="217.4" r="5.6"/><circle cx="603.9" cy="235.5" r="5.6"/><circle cx="607.3" cy="254.7" r="5.6"/><circle cx="610.6" cy="214.9" r="5.6"/><circle cx="614.3" cy="237.3" r="5.6"/><circle cx="618.0" cy="228.6" r="5.6"/><circle cx="621.8" cy="207.4" r="5.6"/><circle cx="625.5" cy="208.7" r="5.6"/><circle cx="629.2" cy="192.5" r="5.6"/><circle cx="631.7" cy="185.8" r="5.6"/><circle cx="636.0" cy="185.3" r="5.6"/><circle cx="639.7" cy="177.6" r="5.6"/><circle cx="642.9" cy="212.4" r="5.6"/><circle cx="650.4" cy="214.9" r="5.6"/><circle cx="654.1" cy="222.4" r="5.6"/><circle cx="661.1" cy="214.9" r="5.6"/><circle cx="664.6" cy="201.2" r="5.6"/><circle cx="669.1" cy="201.9" r="5.6"/><circle cx="675.3" cy="217.4" r="5.6"/><circle cx="682.2" cy="188.3" r="5.6"/><circle cx="685.2" cy="224.8" r="5.6"/><circle cx="690.2" cy="227.3" r="5.6"/><circle cx="693.2" cy="231.1" r="5.6"/><circle cx="703.4" cy="216.1" r="5.6"/><circle cx="707.1" cy="201.2" r="5.6"/><circle cx="711.4" cy="206.2" r="5.6"/><circle cx="717.6" cy="185.0" r="5.6"/><circle cx="721.3" cy="191.2" r="5.6"/><circle cx="728.3" cy="221.9" r="5.6"/><circle cx="732.5" cy="216.9" r="5.6"/><circle cx="735.8" cy="226.8" r="5.6"/><circle cx="742.5" cy="214.9" r="5.6"/><circle cx="746.2" cy="192.5" r="5.6"/><circle cx="750.3" cy="196.5" r="5.6"/><circle cx="753.7" cy="200.0" r="5.6"/><circle cx="757.4" cy="206.2" r="5.6"/><circle cx="764.1" cy="235.5" r="5.6"/><circle cx="771.1" cy="234.8" r="5.6"/><circle cx="774.8" cy="253.5" r="5.6"/><circle cx="778.6" cy="252.2" r="5.6"/><circle cx="781.8" cy="222.4" r="5.6"/><circle cx="785.5" cy="207.9" r="5.6"/><circle cx="789.0" cy="187.8" r="5.6"/><circle cx="796.5" cy="190.8" r="5.6"/><circle cx="803.5" cy="208.7" r="5.6"/><circle cx="806.4" cy="190.3" r="5.6"/><circle cx="810.4" cy="206.9" r="5.6"/><circle cx="820.9" cy="209.4" r="5.6"/><circle cx="825.1" cy="214.9" r="5.6"/><circle cx="828.3" cy="201.2" r="5.6"/><circle cx="832.1" cy="196.2" r="5.6"/><circle cx="838.8" cy="201.2" r="5.6"/><circle cx="843.3" cy="206.9" r="5.6"/><circle cx="845.8" cy="231.1" r="5.6"/><circle cx="849.5" cy="232.3" r="5.6"/><circle cx="853.2" cy="234.8" r="5.6"/><circle cx="857.0" cy="234.8" r="5.6"/><circle cx="860.7" cy="222.4" r="5.6"/><circle cx="864.4" cy="208.7" r="5.6"/><circle cx="867.4" cy="219.9" r="5.6"/><circle cx="871.1" cy="195.0" r="5.6"/><circle cx="874.4" cy="202.4" r="5.6"/><circle cx="878.1" cy="228.6" r="5.6"/><circle cx="881.4" cy="177.1" r="5.6"/><circle cx="885.1" cy="188.3" r="5.6"/><circle cx="888.6" cy="207.4" r="5.6"/><circle cx="899.2" cy="225.6" r="5.6"/><circle cx="902.9" cy="206.2" r="5.6"/><circle cx="906.2" cy="188.3" r="5.6"/><circle cx="906.2" cy="192.5" r="5.6"/><circle cx="909.9" cy="184.6" r="5.6"/><circle cx="913.6" cy="193.0" r="5.6"/><circle cx="917.4" cy="193.7" r="5.6"/><circle cx="920.6" cy="212.4" r="5.6"/><circle cx="924.8" cy="209.9" r="5.6"/><circle cx="927.8" cy="226.1" r="5.6"/><circle cx="931.1" cy="227.3" r="5.6"/><circle cx="934.8" cy="229.8" r="5.6"/><circle cx="938.5" cy="222.4" r="5.6"/><circle cx="942.3" cy="236.8" r="5.6"/><circle cx="946.0" cy="207.9" r="5.6"/><circle cx="952.2" cy="199.5" r="5.6"/><circle cx="956.7" cy="195.0" r="5.6"/><circle cx="960.4" cy="200.5" r="5.6"/><circle cx="963.4" cy="184.1" r="5.6"/><circle cx="967.2" cy="204.9" r="5.6"/><circle cx="970.9" cy="207.4" r="5.6"/><circle cx="974.6" cy="211.2" r="5.6"/><circle cx="981.3" cy="222.4" r="5.6"/><circle cx="984.6" cy="206.9" r="5.6"/><circle cx="992.0" cy="201.2" r="5.6"/><circle cx="998.8" cy="202.9" r="5.6"/><circle cx="1003.2" cy="202.4" r="5.6"/><circle cx="1006.2" cy="214.1" r="5.6"/><circle cx="1010.7" cy="214.1" r="5.6"/><circle cx="1066.2" cy="206.9" r="5.6"/><circle cx="1073.4" cy="185.8" r="5.6"/><circle cx="1077.2" cy="204.9" r="5.6"/><circle cx="1080.9" cy="220.4" r="5.6"/><circle cx="1084.6" cy="202.4" r="5.6"/><circle cx="1091.6" cy="219.9" r="5.6"/><circle cx="1094.6" cy="226.1" r="5.6"/><circle cx="1099.1" cy="214.9" r="5.6"/><circle cx="1102.0" cy="242.3" r="5.6"/><circle cx="1105.8" cy="251.0" r="5.6"/><circle cx="1109.0" cy="200.5" r="5.6"/><circle cx="1116.5" cy="206.2" r="5.6"/><circle cx="1120.7" cy="207.4" r="5.6"/><circle cx="1123.4" cy="182.8" r="5.6"/><circle cx="1123.9" cy="192.5" r="5.6"/><circle cx="1127.7" cy="187.0" r="5.6"/><circle cx="1130.9" cy="191.2" r="5.6"/><circle cx="1133.9" cy="204.9" r="5.6"/><circle cx="1137.6" cy="206.9" r="5.6"/><circle cx="1144.4" cy="201.2" r="5.6"/><circle cx="1151.3" cy="198.7" r="5.6"/><circle cx="1155.1" cy="201.2" r="5.6"/><circle cx="1158.8" cy="172.1" r="5.6"/><circle cx="1158.8" cy="197.5" r="5.6"/><circle cx="1162.5" cy="195.5" r="5.6"/><circle cx="1165.8" cy="208.7" r="5.6"/><circle cx="1169.5" cy="241.8" r="5.6"/><circle cx="1173.0" cy="238.5" r="5.6"/><circle cx="1176.7" cy="216.9" r="5.6"/><circle cx="1179.9" cy="260.4" r="5.6"/><circle cx="1183.7" cy="264.2" r="5.6"/><circle cx="1187.4" cy="246.7" r="5.6"/><circle cx="1191.1" cy="219.4" r="5.6"/><circle cx="1194.9" cy="207.4" r="5.6"/><circle cx="1198.6" cy="201.2" r="5.6"/><circle cx="1201.6" cy="182.8" r="5.6"/><circle cx="1205.6" cy="187.5" r="5.6"/><circle cx="1209.8" cy="185.8" r="5.6"/><circle cx="1216.0" cy="187.0" r="5.6"/><circle cx="1219.8" cy="226.1" r="5.6"/><circle cx="1222.6" cy="194.4" r="5.6"/><circle cx="1226.5" cy="178.3" r="5.6"/><circle cx="1229.9" cy="195.3" r="5.6"/><circle cx="1234.0" cy="179.6" r="5.6"/><circle cx="1237.5" cy="193.5" r="5.6"/><circle cx="1240.9" cy="197.5" r="5.6"/><circle cx="1244.7" cy="200.0" r="5.6"/><circle cx="1248.4" cy="221.1" r="5.6"/><circle cx="1251.6" cy="204.9" r="5.6"/><circle cx="1255.1" cy="241.0" r="5.6"/><circle cx="1258.8" cy="229.8" r="5.6"/><circle cx="1262.1" cy="231.1" r="5.6"/><circle cx="1265.8" cy="249.7" r="5.6"/><circle cx="1269.5" cy="217.4" r="5.6"/><circle cx="1273.3" cy="227.3" r="5.6"/><circle cx="1276.5" cy="201.2" r="5.6"/><circle cx="1280.0" cy="216.1" r="5.6"/><circle cx="1283.2" cy="198.7" r="5.6"/><circle cx="1287.0" cy="196.2" r="5.6"/><circle cx="1290.7" cy="206.9" r="5.6"/><circle cx="1293.9" cy="178.3" r="5.6"/><circle cx="1301.1" cy="200.0" r="5.6"/><circle cx="1304.9" cy="206.9" r="5.6"/><circle cx="1308.6" cy="195.0" r="5.6"/><circle cx="1311.9" cy="187.0" r="5.6"/><circle cx="1315.6" cy="225.6" r="5.6"/><circle cx="1319.3" cy="187.5" r="5.6"/><circle cx="1319.3" cy="192.5" r="5.6"/><circle cx="1320.0" cy="212.4" r="5.6"/><circle cx="1323.1" cy="211.2" r="5.6"/><circle cx="1326.0" cy="199.5" r="5.6"/><circle cx="1330.0" cy="216.1" r="5.6"/><circle cx="1330.0" cy="229.8" r="5.6"/><circle cx="1332.9" cy="228.6" r="5.6"/><circle cx="1336.9" cy="224.8" r="5.6"/><circle cx="1340.4" cy="228.6" r="5.6"/><circle cx="1343.6" cy="256.0" r="5.6"/><circle cx="1347.4" cy="264.2" r="5.6"/><circle cx="1350.6" cy="229.8" r="5.6"/><circle cx="1354.8" cy="223.6" r="5.6"/><circle cx="1357.8" cy="213.6" r="5.6"/><circle cx="1361.8" cy="228.6" r="5.6"/><circle cx="1365.3" cy="208.7" r="5.6"/><circle cx="1368.5" cy="179.1" r="5.6"/><circle cx="1372.3" cy="183.3" r="5.6"/><circle cx="1376.0" cy="231.1" r="5.6"/><circle cx="1379.7" cy="213.6" r="5.6"/><circle cx="1383.5" cy="207.4" r="5.6"/><circle cx="1386.7" cy="202.4" r="5.6"/><circle cx="1390.4" cy="202.9" r="5.6"/><circle cx="1393.4" cy="189.5" r="5.6"/><circle cx="1400.9" cy="189.0" r="5.6"/><circle cx="1404.6" cy="216.1" r="5.6"/><circle cx="1408.4" cy="189.5" r="5.6"/><circle cx="1411.6" cy="222.4" r="5.6"/><circle cx="1414.6" cy="227.8" r="5.6"/><circle cx="1418.3" cy="231.1" r="5.6"/><circle cx="1420.3" cy="236.0" r="5.6"/><circle cx="1422.0" cy="260.9" r="5.6"/><circle cx="1425.8" cy="265.9" r="5.6"/><circle cx="1428.8" cy="239.8" r="5.6"/><circle cx="1432.5" cy="227.3" r="5.6"/><circle cx="1436.2" cy="221.1" r="5.6"/><circle cx="1440.0" cy="214.9" r="5.6"/><circle cx="1446.9" cy="223.6" r="5.6"/><circle cx="1450.7" cy="175.1" r="5.6"/><circle cx="1454.4" cy="195.0" r="5.6"/><circle cx="1458.6" cy="193.8" r="5.6"/><circle cx="1461.4" cy="213.6" r="5.6"/><circle cx="1465.1" cy="216.9" r="5.6"/><circle cx="1468.8" cy="218.6" r="5.6"/><circle cx="1471.8" cy="185.3" r="5.6"/><circle cx="1476.3" cy="186.5" r="5.6"/><circle cx="1482.3" cy="208.7" r="5.6"/><circle cx="1486.3" cy="216.1" r="5.6"/><circle cx="1489.7" cy="224.8" r="5.6"/><circle cx="1496.7" cy="216.1" r="5.6"/><circle cx="1500.4" cy="232.3" r="5.6"/><circle cx="1504.2" cy="243.5" r="5.6"/><circle cx="1507.9" cy="247.2" r="5.6"/><circle cx="1514.6" cy="246.7" r="5.6"/><circle cx="1518.4" cy="224.3" r="5.6"/><circle cx="1525.3" cy="205.4" r="5.6"/><circle cx="1529.1" cy="206.2" r="5.6"/><circle cx="1532.0" cy="187.0" r="5.6"/><circle cx="1536.0" cy="208.7" r="5.6"/><circle cx="1546.5" cy="223.6" r="5.6"/><circle cx="1553.9" cy="197.5" r="5.6"/><circle cx="1557.2" cy="188.3" r="5.6"/><circle cx="1560.9" cy="203.7" r="5.6"/><circle cx="1564.4" cy="200.0" r="5.6"/><circle cx="1568.1" cy="201.2" r="5.6"/><circle cx="1571.4" cy="217.4" r="5.6"/><circle cx="1575.1" cy="213.6" r="5.6"/><circle cx="1578.8" cy="211.2" r="5.6"/><circle cx="1585.8" cy="242.3" r="5.6"/><circle cx="1589.3" cy="237.3" r="5.6"/><circle cx="1593.0" cy="263.4" r="5.6"/><circle cx="1596.3" cy="254.2" r="5.6"/><circle cx="1599.5" cy="221.9" r="5.6"/><circle cx="1603.7" cy="216.1" r="5.6"/><circle cx="1607.5" cy="196.2" r="5.6"/><circle cx="1610.7" cy="188.3" r="5.6"/><circle cx="1610.7" cy="193.0" r="5.6"/><circle cx="1617.4" cy="189.5" r="5.6"/><circle cx="1621.1" cy="187.0" r="5.6"/><circle cx="1624.9" cy="181.6" r="5.6"/><circle cx="1628.6" cy="183.3" r="5.6"/><circle cx="1632.3" cy="201.2" r="5.6"/><circle cx="1639.1" cy="200.0" r="5.6"/><circle cx="1646.0" cy="192.5" r="5.6"/><circle cx="1649.8" cy="202.4" r="5.6"/><circle cx="1653.5" cy="216.1" r="5.6"/><circle cx="1657.2" cy="206.2" r="5.6"/><circle cx="1660.5" cy="218.6" r="5.6"/><circle cx="1664.0" cy="228.6" r="5.6"/><circle cx="1667.2" cy="244.8" r="5.6"/><circle cx="1670.4" cy="260.9" r="5.6"/></g>
</g>
<g font-size="16" fill="#000" text-anchor="middle">
<text x="78.6" y="420">2000</text>
<text x="160.3" y="420">2001</text>
<text x="242.1" y="420">2002</text>
<text x="323.9" y="420">2003</text>
<text x="405.8" y="420">2004</text>
<text x="487.6" y="420">2005</text>
<text x="569.4" y="420">2006</text>
<text x="651.2" y="420">2007</text>
<text x="733.1" y="420">2008</text>
<text x="814.9" y="420">2009</text>
<text x="896.7" y="420">2010</text>
<text x="978.5" y="420">2011</text>
<text x="1060.3" y="420">2012</text>
<text x="1142.2" y="420">2013</text>
<text x="1224.0" y="420">2014</text>
<text x="1305.8" y="420">2015</text>
<text x="1387.6" y="420">2016</text>
<text x="1469.4" y="420">2017</text>
<text x="1551.2" y="420">2018</text>
<text x="1633.1" y="420">2019</text>
</g>
<g stroke="#333" stroke-width="1.3">
<line x1="35.0" x2="38.9" y1="430.80" y2="430.80"/>
<line x1="35.0" x2="38.9" y1="346.14" y2="346.14"/>
<line x1="35.0" x2="38.9" y1="261.48" y2="261.48"/>
<line x1="35.0" x2="38.9" y1="176.82" y2="176.82"/>
<line x1="35.0" x2="38.9" y1="92.16" y2="92.16"/>
<line x1="35.0" x2="38.9" y1="7.50" y2="7.50"/>
<line y1="430.8" y2="434.45" x1="38.50" x2="38.50"/>
<line y1="430.8" y2="434.45" x1="120.20" x2="120.20"/>
<line y1="430.8" y2="434.45" x1="202.02" x2="202.02"/>
<line y1="430.8" y2="434.45" x1="283.84" x2="283.84"/>
<line y1="430.8" y2="434.45" x1="365.66" x2="365.66"/>
<line y1="430.8" y2="434.45" x1="447.48" x2="447.48"/>
<line y1="430.8" y2="434.45" x1="529.30" x2="529.30"/>
<line y1="430.8" y2="434.45" x1="611.12" x2="611.12"/>
<line y1="430.8" y2="434.45" x1="692.94" x2="692.94"/>
<line y1="430.8" y2="434.45" x1="774.76" x2="774.76"/>
<line y1="430.8" y2="434.45" x1="856.58" x2="856.58"/>
<line y1="430.8" y2="434.45" x1="938.40" x2="938.40"/>
<line y1="430.8" y2="434.45" x1="1020.22" x2="1020.22"/>
<line y1="430.8" y2="434.45" x1="1102.04" x2="1102.04"/>
<line y1="430.8" y2="434.45" x1="1183.86" x2="1183.86"/>
<line y1="430.8" y2="434.45" x1="1265.68" x2="1265.68"/>
<line y1="430.8" y2="434.45" x1="1347.50" x2="1347.50"/>
<line y1="430.8" y2="434.45" x1="1429.32" x2="1429.32"/>
<line y1="430.8" y2="434.45" x1="1511.14" x2="1511.14"/>
<line y1="430.8" y2="434.45" x1="1592.96" x2="1592.96"/>
</g>
<g font-size="12.1" fill="#4D4D4D" text-anchor="end">
<text x="31.5" y="435">0.75</text>
<text x="31.5" y="350">1.00</text>
<text x="31.5" y="266">1.25</text>
<text x="31.5" y="181">1.50</text>
<text x="31.5" y="97">1.75</text>
<text x="31.5" y="12">2.00</text>
</g>
<rect x="1694.1" y="206.8" width="23.9" height="47.9" fill="#F2F2F2"/>
<line x1="1696.5" x2="1715.7" y1="218.60" y2="218.60" stroke="#0000FF" stroke-width="2.85"/>
<circle cx="1706.05" cy="218.60" r="5.6" fill="#0000FF"/>
<text x="1726.5" y="222.90" font-size="12.1" fill="#000">NDVI</text>
<line x1="1696.5" x2="1715.7" y1="242.50" y2="242.50" stroke="#FF0000" stroke-width="2.85"/>
<circle cx="1706.05" cy="242.50" r="5.6" fill="#FF0000"/>
<text x="1726.5" y="246.80" font-size="12.1" fill="#000">SWIR</text>
</svg></body></html>
